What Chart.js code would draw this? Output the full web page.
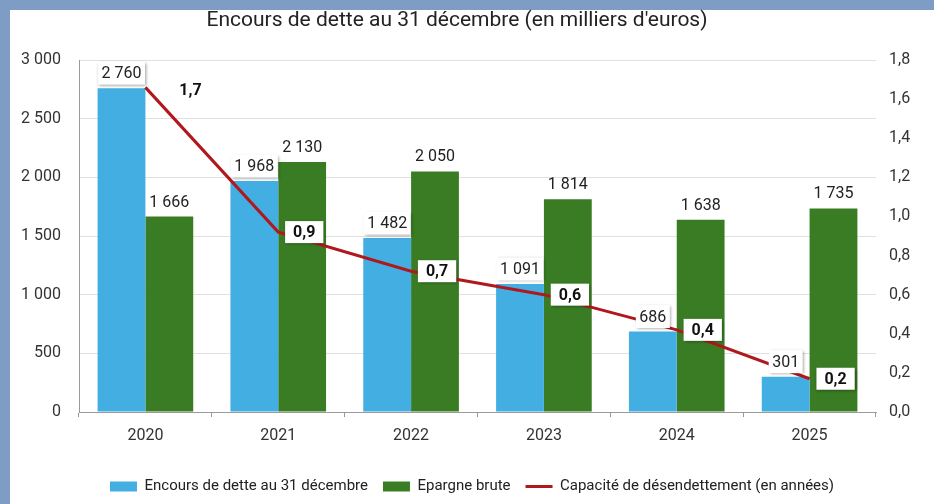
<!DOCTYPE html>
<html lang="fr">
<head>
<meta charset="utf-8">
<title>Encours de dette au 31 décembre</title>
<script src="https://cdn.jsdelivr.net/npm/chart.js@4.4.1/dist/chart.umd.min.js"></script>
<style>
  html, body { margin: 0; padding: 0; }
  body { width: 934px; height: 504px; background: #7f9cc5; position: relative; overflow: hidden; }
  #panneau { position: absolute; left: 10px; top: 10px; width: 924px; height: 494px; background: #fff; }
  #titre { position: absolute; left: 0; top: -3px; width: 894px; text-align: center;
           font: 21px Roboto, sans-serif; color: #222; white-space: nowrap; }
  #graphique { position: absolute; left: 0; top: 0; }
</style>
</head>
<body>
<div id="panneau">
  <canvas id="graphique" width="924" height="494"></canvas>
  <div id="titre">Encours de dette au 31 décembre (en milliers d'euros)</div>
</div>
<script>
// données
var annees = ['2020', '2021', '2022', '2023', '2024', '2025'];
var encours = [2760, 1968, 1482, 1091, 686, 301];
var epargne = [1666, 2130, 2050, 1814, 1638, 1735];
var capacite = [1.66, 0.92, 0.72, 0.60, 0.42, 0.17];
var ticksGauche = [0, 500, 1000, 1500, 2000, 2500, 3000];
var ticksDroite = [0, 0.2, 0.4, 0.6, 0.8, 1.0, 1.2, 1.4, 1.6, 1.8];

// 2760 -> "2 760"
function milliers(v) {
    return String(v).replace(/\B(?=(\d{3})+(?!\d))/g, ' ');
}

// 0.9 -> "0,9"
function virgule(v) {
    return v.toFixed(1).replace('.', ',');
}

function boite(ctx, cx, cy, w, h) {
    ctx.save();
    ctx.shadowColor = 'rgba(0,0,0,0.4)';
    ctx.shadowBlur = 3;
    ctx.shadowOffsetX = 1;
    ctx.shadowOffsetY = 1;
    ctx.fillStyle = '#fff';
    ctx.fillRect(cx - w / 2, cy - h / 2, w, h);
    ctx.restore();
}

// étiquettes de valeurs (barres + courbe)
var etiquettes = {
    id: 'etiquettes',
    afterDatasetsDraw: function (chart) {
        var ctx = chart.ctx;
        ctx.save();
        ctx.textAlign = 'center';
        ctx.textBaseline = 'middle';

        [0, 1].forEach(function (d) {
            var meta = chart.getDatasetMeta(d);
            meta.data.forEach(function (barre, i) {
                var txt = milliers(chart.data.datasets[d].data[i]);
                var y = barre.y - 15;
                ctx.font = '16px Roboto';
                if (d === 0) {
                    boite(ctx, barre.x, y, ctx.measureText(txt).width + 7, 23);
                }
                ctx.fillStyle = '#222';
                ctx.fillText(txt, barre.x, y + 1);
            });
        });

        var metaLigne = chart.getDatasetMeta(2);
        metaLigne.data.forEach(function (pt, i) {
            var txt = virgule(chart.data.datasets[2].data[i]);
            ctx.font = 'bold 16px Roboto';
            var x = pt.x + (i === 0 ? 45 : 26);
            var y = pt.y + (i === 0 ? 3 : 0);
            if (i > 0) {
                boite(ctx, x, y, ctx.measureText(txt).width + 16, 22);
            }
            ctx.fillStyle = '#111';
            ctx.fillText(txt, x, y + 1);
        });
        ctx.restore();
    }
};

document.addEventListener('DOMContentLoaded', function () {
    var ctx = document.getElementById('graphique').getContext('2d');
    new Chart(ctx, {
        data: {
            labels: annees,
            datasets: [
                {
                    type: 'bar',
                    label: 'Encours de dette au 31 décembre',
                    data: encours,
                    backgroundColor: '#42aee2',
                    yAxisID: 'y',
                    order: 1,
                    categoryPercentage: 0.72,
                    barPercentage: 1
                },
                {
                    type: 'bar',
                    label: 'Epargne brute',
                    data: epargne,
                    backgroundColor: '#397c23',
                    yAxisID: 'y',
                    order: 1,
                    categoryPercentage: 0.72,
                    barPercentage: 1
                },
                {
                    type: 'line',
                    label: 'Capacité de désendettement (en années)',
                    data: capacite,
                    borderColor: '#b1181d',
                    backgroundColor: '#b1181d',
                    borderWidth: 3,
                    pointRadius: 0,
                    tension: 0,
                    yAxisID: 'y2',
                    order: 0
                }
            ]
        },
        options: {
            responsive: false,
            animation: false,
            devicePixelRatio: 1,
            layout: { padding: { top: 50, bottom: 0, left: 0, right: 0 } },
            plugins: {
                tooltip: { enabled: false },
                title: { display: false },
                legend: {
                    position: 'bottom',
                    labels: {
                        font: { family: 'Roboto', size: 15 },
                        color: '#222',
                        usePointStyle: true,
                        pointStyleWidth: 27,
                        boxHeight: 10,
                        padding: 15,
                        generateLabels: function (chart) {
                            return chart.data.datasets.map(function (ds, i) {
                                var ligne = ds.type === 'line';
                                return {
                                    text: ds.label,
                                    fillStyle: ligne ? ds.borderColor : ds.backgroundColor,
                                    strokeStyle: ligne ? ds.borderColor : ds.backgroundColor,
                                    lineWidth: ligne ? 3 : 0,
                                    pointStyle: ligne ? 'line' : 'rect',
                                    hidden: false,
                                    datasetIndex: i,
                                    fontColor: '#222'
                                };
                            });
                        }
                    }
                }
            },
            scales: {
                x: {
                    grid: { display: true, drawOnChartArea: false, drawTicks: true, tickLength: 5, color: '#999' },
                    border: { display: true, color: '#999' },
                    ticks: { font: { family: 'Roboto', size: 16 }, color: '#333', padding: 9 },
                    afterFit: function (s) { s.height = 52; }
                },
                y: {
                    position: 'left',
                    min: 0,
                    max: 3000,
                    afterBuildTicks: function (s) {
                        s.ticks = ticksGauche.map(function (v) { return { value: v }; });
                    },
                    grid: { color: '#e0e0e0', drawTicks: false },
                    border: { display: true, color: '#999' },
                    ticks: {
                        font: { family: 'Roboto', size: 16 },
                        color: '#333',
                        padding: 18,
                        callback: function (v) { return milliers(v); }
                    },
                    afterFit: function (s) { s.width = 69; }
                },
                y2: {
                    position: 'right',
                    min: 0,
                    max: 1.8,
                    afterBuildTicks: function (s) {
                        s.ticks = ticksDroite.map(function (v) { return { value: v }; });
                    },
                    grid: { display: false, drawTicks: false },
                    border: { display: false },
                    ticks: {
                        font: { family: 'Roboto', size: 16 },
                        color: '#333',
                        padding: 13,
                        callback: function (v) { return virgule(v); }
                    },
                    afterFit: function (s) { s.width = 58; }
                }
            }
        },
        plugins: [etiquettes]
    });
});
</script>
</body>
</html>
